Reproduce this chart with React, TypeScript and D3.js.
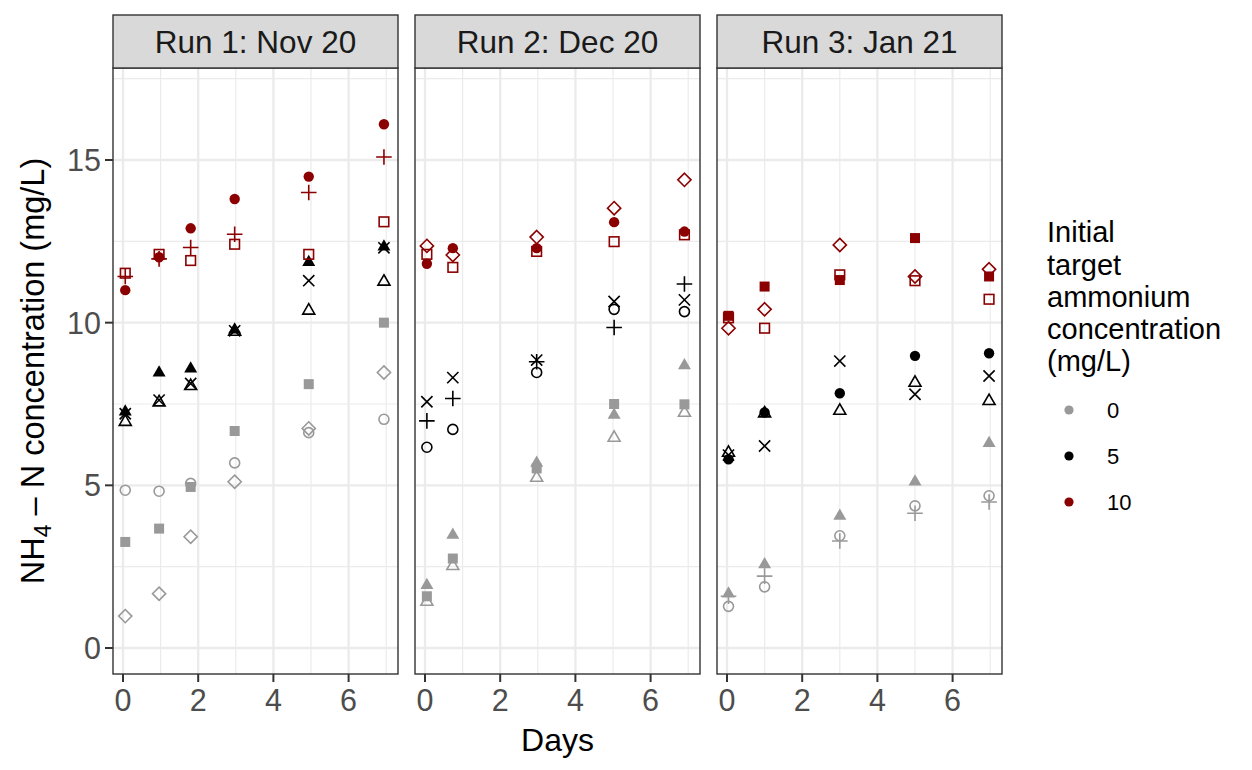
import React from "react";
import * as d3 from "d3";

const runLabels = ["Run 1: Nov 20", "Run 2: Dec 20", "Run 3: Jan 21"];
const targets = [0, 5, 10];
const targetColors = ["#999999", "#000000", "#8B0000"];

const run1Days = [0.06, 0.96, 1.8, 2.97, 4.94, 6.94];
const run2Days = [0.05, 0.74, 2.97, 5.03, 6.9];
const run3Days = [0.04, 1.0, 3.0, 5.0, 6.97];

// Run 1 series
const r1_0_circleOpen = [4.85, 4.82, 5.06, 5.69, 6.62, 7.03];
const r1_0_squareFilled = [3.26, 3.67, 4.95, 6.67, 8.11, 10.0];
const r1_0_diamondOpen = [0.98, 1.67, 3.42, 5.11, 6.75, 8.47];
const r1_5_triangleFilled = [7.26, 8.46, 8.58, 9.78, 11.86, 12.33];
const r1_5_cross = [7.2, 7.62, 8.13, 9.75, 11.29, 12.3];
const r1_5_triangleOpen = [6.95, 7.55, 8.05, 9.72, 10.37, 11.26];
const r1_10_circleFilled = [11.0, 12.01, 12.9, 13.8, 14.49, 16.1];
const r1_10_plus = [11.42, 11.96, 12.31, 12.72, 14.0, 15.09];
const r1_10_squareOpen = [11.52, 12.1, 11.91, 12.41, 12.1, 13.1];

// Run 2 series
const r2_0_triangleFilled = [1.93, 3.47, 5.69, 7.16, 8.68];
const r2_0_squareFilled = [1.59, 2.75, 5.52, 7.5, 7.49];
const r2_0_triangleOpen = [1.42, 2.52, 5.23, 6.46, 7.23];
const r2_5_cross = [7.57, 8.31, 8.85, 10.65, 10.7];
const r2_5_plus = [6.98, 7.67, 8.8, 9.85, 11.19];
const r2_5_circleOpen = [6.17, 6.72, 8.47, 10.41, 10.34];
const r2_10_diamondOpen = [12.36, 12.08, 12.63, 13.52, 14.39];
const r2_10_circleFilled = [11.81, 12.29, 12.29, 13.09, 12.8];
const r2_10_squareOpen = [12.1, 11.7, 12.19, 12.49, 12.7];

// Run 3 series
const r3_0_triangleFilled = [1.67, 2.57, 4.06, 5.11, 6.29];
const r3_0_plus = [1.59, 2.21, 3.29, 4.14, 4.49];
const r3_0_circleOpen = [1.28, 1.88, 3.45, 4.37, 4.68];
const r3_5_circleFilled = [5.8, 7.24, 7.83, 8.98, 9.06];
const r3_5_cross = [5.93, 6.21, 8.82, 7.8, 8.36];
const r3_5_triangleOpen = [6.0, 7.21, 7.29, 8.15, 7.59];
const r3_10_squareFilled = [10.21, 11.11, 11.31, 12.6, 11.42];
const r3_10_diamondOpen = [9.83, 10.41, 12.39, 11.42, 11.64];
const r3_10_squareOpen = [10.15, 9.83, 11.47, 11.29, 10.72];

const xMajorTicks = [0, 2, 4, 6];
const xMinorTicks = [1, 3, 5, 7];
const yMajorTicks = [0, 5, 10, 15];
const yMinorTicks = [2.5, 7.5, 12.5, 17.5];

type Series = { target: number; shape: string; values: number[] };

const runSeries: Series[][] = [
  [
    { target: 0, shape: "circleOpen", values: r1_0_circleOpen },
    { target: 0, shape: "squareFilled", values: r1_0_squareFilled },
    { target: 0, shape: "diamondOpen", values: r1_0_diamondOpen },
    { target: 5, shape: "triangleFilled", values: r1_5_triangleFilled },
    { target: 5, shape: "cross", values: r1_5_cross },
    { target: 5, shape: "triangleOpen", values: r1_5_triangleOpen },
    { target: 10, shape: "circleFilled", values: r1_10_circleFilled },
    { target: 10, shape: "plus", values: r1_10_plus },
    { target: 10, shape: "squareOpen", values: r1_10_squareOpen },
  ],
  [
    { target: 0, shape: "triangleFilled", values: r2_0_triangleFilled },
    { target: 0, shape: "squareFilled", values: r2_0_squareFilled },
    { target: 0, shape: "triangleOpen", values: r2_0_triangleOpen },
    { target: 5, shape: "cross", values: r2_5_cross },
    { target: 5, shape: "plus", values: r2_5_plus },
    { target: 5, shape: "circleOpen", values: r2_5_circleOpen },
    { target: 10, shape: "diamondOpen", values: r2_10_diamondOpen },
    { target: 10, shape: "circleFilled", values: r2_10_circleFilled },
    { target: 10, shape: "squareOpen", values: r2_10_squareOpen },
  ],
  [
    { target: 0, shape: "triangleFilled", values: r3_0_triangleFilled },
    { target: 0, shape: "plus", values: r3_0_plus },
    { target: 0, shape: "circleOpen", values: r3_0_circleOpen },
    { target: 5, shape: "circleFilled", values: r3_5_circleFilled },
    { target: 5, shape: "cross", values: r3_5_cross },
    { target: 5, shape: "triangleOpen", values: r3_5_triangleOpen },
    { target: 10, shape: "squareFilled", values: r3_10_squareFilled },
    { target: 10, shape: "diamondOpen", values: r3_10_diamondOpen },
    { target: 10, shape: "squareOpen", values: r3_10_squareOpen },
  ],
];
const runDays = [run1Days, run2Days, run3Days];

const W = 1252;
const H = 770;
const FONT = "'Liberation Sans', Arial, Helvetica, sans-serif";
const panelLefts = [113, 415, 717];
const panelW = 285;
const panelTop = 68;
const panelBottom = 674;
const stripTop = 15;

const colorScale = d3.scaleOrdinal<number, string>().domain(targets).range(targetColors);
const yScale = d3.scaleLinear().domain([0, 15]).range([648, 160]);

function Marker({ shape, x, y, color }: { shape: string; x: number; y: number; color: string }) {
  const sw = 1.6;
  switch (shape) {
    case "circleFilled":
      return <circle cx={x} cy={y} r={5.2} fill={color} />;
    case "circleOpen":
      return <circle cx={x} cy={y} r={5} fill="none" stroke={color} strokeWidth={sw} />;
    case "squareFilled":
      return <rect x={x - 5} y={y - 5} width={10} height={10} fill={color} />;
    case "squareOpen":
      return <rect x={x - 4.8} y={y - 4.8} width={9.6} height={9.6} fill="none" stroke={color} strokeWidth={sw} />;
    case "diamondOpen": {
      const r = 6.6;
      return (
        <path d={`M${x},${y - r}L${x + r},${y}L${x},${y + r}L${x - r},${y}Z`} fill="none" stroke={color} strokeWidth={sw} />
      );
    }
    case "triangleFilled": {
      const s = 13;
      const h = (s * Math.sqrt(3)) / 2;
      return (
        <path d={`M${x},${y - (2 * h) / 3}L${x + s / 2},${y + h / 3}L${x - s / 2},${y + h / 3}Z`} fill={color} />
      );
    }
    case "triangleOpen": {
      const s = 12;
      const h = (s * Math.sqrt(3)) / 2;
      return (
        <path
          d={`M${x},${y - (2 * h) / 3}L${x + s / 2},${y + h / 3}L${x - s / 2},${y + h / 3}Z`}
          fill="none"
          stroke={color}
          strokeWidth={sw}
        />
      );
    }
    case "plus": {
      const r = 7.8;
      return (
        <path d={`M${x - r},${y}H${x + r}M${x},${y - r}V${y + r}`} fill="none" stroke={color} strokeWidth={sw} />
      );
    }
    case "cross": {
      const r = 5.6;
      return (
        <path
          d={`M${x - r},${y - r}L${x + r},${y + r}M${x - r},${y + r}L${x + r},${y - r}`}
          fill="none"
          stroke={color}
          strokeWidth={sw}
        />
      );
    }
    default:
      return null;
  }
}

function Panel({ idx }: { idx: number }) {
  const left = panelLefts[idx];
  const xScale = d3.scaleLinear().domain([0, 6]).range([left + 10, left + 10 + 6 * 37.6]);
  const days = runDays[idx];
  const series = runSeries[idx];
  const right = left + panelW;
  return (
    <g>
      <rect x={left} y={panelTop} width={panelW} height={panelBottom - panelTop} fill="#ffffff" />
      {yMinorTicks.map((t) => (
        <line key={"ym" + t} x1={left} x2={right} y1={yScale(t)} y2={yScale(t)} stroke="#ebebeb" strokeWidth={1.2} />
      ))}
      {xMinorTicks.map((t) => (
        <line key={"xm" + t} x1={xScale(t)} x2={xScale(t)} y1={panelTop} y2={panelBottom} stroke="#ebebeb" strokeWidth={1.2} />
      ))}
      {yMajorTicks.map((t) => (
        <line key={"yM" + t} x1={left} x2={right} y1={yScale(t)} y2={yScale(t)} stroke="#ebebeb" strokeWidth={2.3} />
      ))}
      {xMajorTicks.map((t) => (
        <line key={"xM" + t} x1={xScale(t)} x2={xScale(t)} y1={panelTop} y2={panelBottom} stroke="#ebebeb" strokeWidth={2.3} />
      ))}
      {series.map((s, si) =>
        s.values.map((v, i) => (
          <Marker key={si + "-" + i} shape={s.shape} x={xScale(days[i])} y={yScale(v)} color={colorScale(s.target)} />
        ))
      )}
      <rect x={left} y={panelTop} width={panelW} height={panelBottom - panelTop} fill="none" stroke="#333333" strokeWidth={1.4} />
      {/* strip */}
      <rect x={left} y={stripTop} width={panelW} height={panelTop - stripTop} fill="#d9d9d9" stroke="#333333" strokeWidth={1.4} />
      <text
        x={left + panelW / 2}
        y={(stripTop + panelTop) / 2 + 11}
        textAnchor="middle"
        fontFamily={FONT}
        fontSize={31.5}
        fill="#1a1a1a"
      >
        {runLabels[idx]}
      </text>
      {/* x axis */}
      {xMajorTicks.map((t) => (
        <g key={"xt" + t}>
          <line x1={xScale(t)} x2={xScale(t)} y1={panelBottom} y2={panelBottom + 8} stroke="#333333" strokeWidth={2} />
          <text x={xScale(t)} y={panelBottom + 37} textAnchor="middle" fontFamily={FONT} fontSize={30.5} fill="#4d4d4d">
            {t}
          </text>
        </g>
      ))}
    </g>
  );
}

export default function App() {
  const yAxisLeft = panelLefts[0];
  const legendX = 1069;
  const legendYs = [410, 456, 502];
  const legendTitle = ["Initial", "target", "ammonium", "concentration", "(mg/L)"];
  const titleYs = [232, 265, 297, 329, 361];
  return (
    <svg width={W} height={H} style={{ display: "block", position: "absolute", left: 0, top: 0 }}>
      <rect x={0} y={0} width={W} height={H} fill="#ffffff" />
      {runLabels.map((_, i) => (
        <Panel key={i} idx={i} />
      ))}
      {/* y axis */}
      {yMajorTicks.map((t) => (
        <g key={"yt" + t}>
          <line x1={yAxisLeft - 8} x2={yAxisLeft} y1={yScale(t)} y2={yScale(t)} stroke="#333333" strokeWidth={2} />
          <text x={yAxisLeft - 12} y={yScale(t) + 11} textAnchor="end" fontFamily={FONT} fontSize={30.5} fill="#4d4d4d">
            {t}
          </text>
        </g>
      ))}
      <text
        transform={`translate(44, ${(panelTop + panelBottom) / 2}) rotate(-90)`}
        textAnchor="middle"
        fontFamily={FONT}
        fontSize={32.5}
        fill="#000000"
      >
        NH
        <tspan fontSize={23} dy={7}>4</tspan>
        <tspan dy={-7}> – N concentration (mg/L)</tspan>
      </text>
      <text x={(panelLefts[1] + panelLefts[1] + panelW) / 2} y={751} textAnchor="middle" fontFamily={FONT} fontSize={32} fill="#000000">
        Days
      </text>
      {/* legend */}
      {legendTitle.map((l, i) => (
        <text key={l} x={1047} y={titleYs[i] + 10} fontFamily={FONT} fontSize={29} fill="#000000">
          {l}
        </text>
      ))}
      {targets.map((t, i) => (
        <g key={"lg" + t}>
          <circle cx={legendX} cy={legendYs[i]} r={4.6} fill={colorScale(t)} />
          <text x={1107} y={legendYs[i] + 8} fontFamily={FONT} fontSize={22} fill="#000000">
            {t}
          </text>
        </g>
      ))}
    </svg>
  );
}
